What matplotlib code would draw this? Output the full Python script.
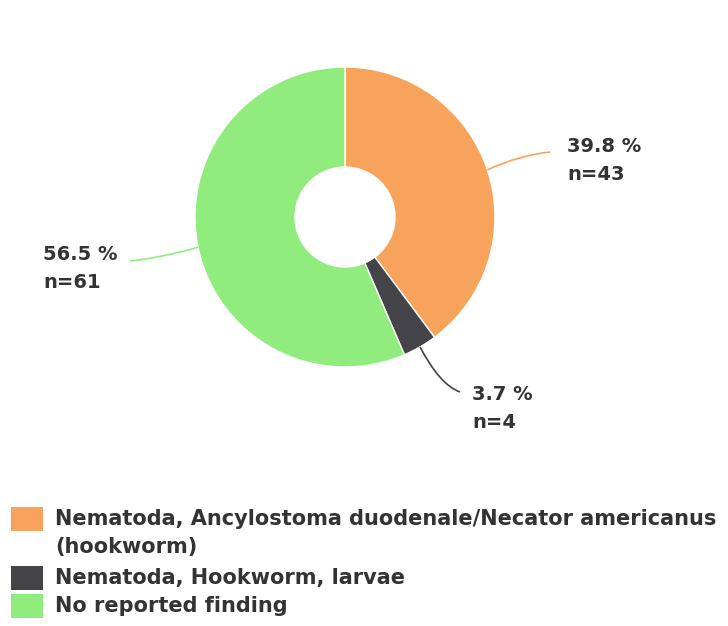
import matplotlib.pyplot as plt
import matplotlib.patches as patches
from matplotlib.path import Path
import numpy as np

# === Data ===
categories = [
    "Nematoda, Ancylostoma duodenale/Necator americanus\n(hookworm)",
    "Nematoda, Hookworm, larvae",
    "No reported finding",
]
counts = [43, 4, 61]
percents = [39.8, 3.7, 56.5]
colors = ["#f7a35c", "#434348", "#90ed7d"]

W, H = 728, 626
TEXT_COLOR = "#333333"
plt.rcParams['font.family'] = ['DejaVu Sans']

fig = plt.figure(figsize=(W / 100, H / 100), dpi=100)
ax = fig.add_axes([0, 0, 1, 1])

# pie in pixel-like coords (y up)
cx, cy = 345, H - 217
R = 150
wedges, _ = ax.pie(counts, colors=colors, startangle=90, counterclock=False,
                   center=(cx, cy), radius=R,
                   wedgeprops=dict(width=100, edgecolor='white', linewidth=1))
ax.set_xlim(0, W)
ax.set_ylim(0, H)
ax.set_aspect('equal')
ax.axis('off')

# === Labels with leader lines ===
# (label end point, control point, first text line centre) in image pixels
label_geom = [
    ((550, 152), (520, 155), (567, 146)),
    ((460, 392), (440, 385), (472, 395)),
    ((130, 261), (160, 258), (43, 255)),
]
LINE_STEP = 28
total = sum(counts)
cum = 0
for i, geom in enumerate(label_geom):
    mid = cum + counts[i] / 2
    cum += counts[i]
    ang = np.deg2rad(90 - 360 * mid / total)
    sx, sy = cx + R * np.cos(ang), cy + R * np.sin(ang)
    (ex, ey), (kx, ky), (tx, ty) = geom
    path = Path([(sx, sy), (kx, H - ky), (ex, H - ey)],
                [Path.MOVETO, Path.CURVE3, Path.CURVE3])
    ax.add_patch(patches.PathPatch(path, fill=False, edgecolor=colors[i], linewidth=1.2))
    for j, line in enumerate([f"{percents[i]} %", f"n={counts[i]}"]):
        ax.text(tx, H - ty - j * LINE_STEP, line, ha='left', va='center',
                fontsize=14, fontweight='bold', color=TEXT_COLOR)

# === Legend ===
legend_rows = [519, 578, 606]
for i, (lab, y) in enumerate(zip(categories, legend_rows)):
    ax.add_patch(patches.Rectangle((11, H - y - 12), 32, 24, facecolor=colors[i],
                                   edgecolor='none'))
    for j, line in enumerate(lab.split('\n')):
        ax.text(55, H - y - j * LINE_STEP, line, ha='left', va='center',
                fontsize=15, fontweight='bold', color=TEXT_COLOR)

fig.savefig("out.png", dpi=100)
